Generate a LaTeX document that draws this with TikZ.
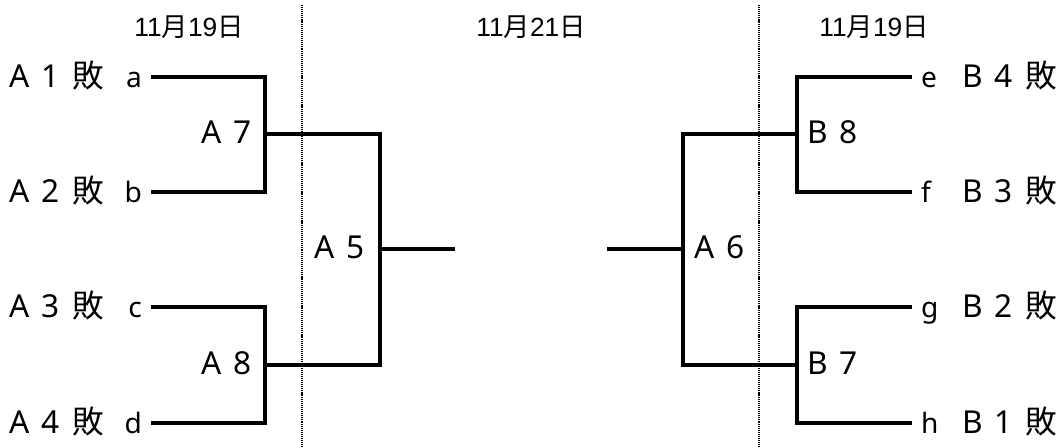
\documentclass[tikz,border=0pt]{standalone}
\usepackage{fontspec}
\setmainfont{Noto Sans}
\newfontfamily\jp{Noto Sans CJK JP}
\newfontfamily\arialike{Liberation Sans}
\usepackage{tikz}
\newcommand{\tsp}{\hspace{.38em}}

\begin{document}
\begin{tikzpicture}[x=0.02cm, y=-0.02cm]
\tikzstyle{team}=[inner sep=0pt, font=\fontsize{18}{21}\selectfont]
\tikzstyle{seed}=[inner xsep=5pt, inner ysep=0pt, text height=12.5pt, text depth=0pt, font=\fontsize{16}{19}\selectfont]
\tikzstyle{game}=[inner sep=0pt, font=\fontsize{18}{21}\selectfont]
\tikzstyle{day}=[inner sep=0pt, font=\fontsize{15}{17}\arialike]
\tikzstyle{bracket}=[line width=1.8pt]
\tikzstyle{divider}=[line width=1.3pt, dash pattern=on .6pt off .5pt]

\useasboundingbox (0,0) rectangle (1063,448);

% days
\node[day, anchor=base] (day1) at (189,37) {11{\jp 月}19{\jp 日}};
\node[day, anchor=base] (day2) at (531,37) {11{\jp 月}21{\jp 日}};
\node[day, anchor=base] (day3) at (874,37) {11{\jp 月}19{\jp 日}};

% left side
\node[team, anchor=base east] (A1) at (104,88) {A\tsp 1\tsp{\jp 敗}};
\node[team, anchor=base east] (A2) at (104,203) {A\tsp 2\tsp{\jp 敗}};
\node[team, anchor=base east] (A3) at (104,318) {A\tsp 3\tsp{\jp 敗}};
\node[team, anchor=base east] (A4) at (104,434) {A\tsp 4\tsp{\jp 敗}};
\node[seed, anchor=east] (a) at (151,77) {a};
\node[seed, anchor=east] (b) at (151,192) {b};
\node[seed, anchor=east] (c) at (151,307) {c};
\node[seed, anchor=east] (d) at (151,423) {d};

% right side
\node[team, anchor=base west] (B4) at (962,88) {B\tsp 4\tsp{\jp 敗}};
\node[team, anchor=base west] (B3) at (962,203) {B\tsp 3\tsp{\jp 敗}};
\node[team, anchor=base west] (B2) at (962,318) {B\tsp 2\tsp{\jp 敗}};
\node[team, anchor=base west] (B1) at (962,434) {B\tsp 1\tsp{\jp 敗}};
\node[seed, anchor=west] (e) at (912,77) {e};
\node[seed, anchor=west] (f) at (912,192) {f};
\node[seed, anchor=west] (g) at (912,307) {g};
\node[seed, anchor=west] (h) at (912,423) {h};

% joins
\coordinate (jA7) at (265,134);
\coordinate (jA8) at (265,365);
\coordinate (jA5) at (380,249);
\coordinate (oA5) at (455,249);
\coordinate (jB8) at (797,134);
\coordinate (jB7) at (797,365);
\coordinate (jA6) at (683,249);
\coordinate (oA6) at (607,249);

\node[game, anchor=base east] (A7) at (252,144) {A\tsp 7};
\node[game, anchor=base east] (A8) at (252,375) {A\tsp 8};
\node[game, anchor=base west] (A5) at (314,259) {A\tsp 5};
\node[game, anchor=base west] (A6) at (694,259) {A\tsp 6};
\node[game, anchor=base west] (B8) at (807,144) {B\tsp 8};
\node[game, anchor=base west] (B7) at (807,375) {B\tsp 7};

\draw[bracket] (a) -| (jA7) |- (b);
\draw[bracket] (c) -| (jA8) |- (d);
\draw[bracket] (jA7) -| (jA5) |- (jA8);
\draw[bracket] (jA5) -- (oA5);
\draw[bracket] (e) -| (jB8) |- (f);
\draw[bracket] (g) -| (jB7) |- (h);
\draw[bracket] (jB8) -| (jA6) |- (jB7);
\draw[bracket] (jA6) -- (oA6);

% dividers
\draw[divider] (302,5) -- (302,448);
\draw[divider] (759,5) -- (759,448);

\end{tikzpicture}
\end{document}
